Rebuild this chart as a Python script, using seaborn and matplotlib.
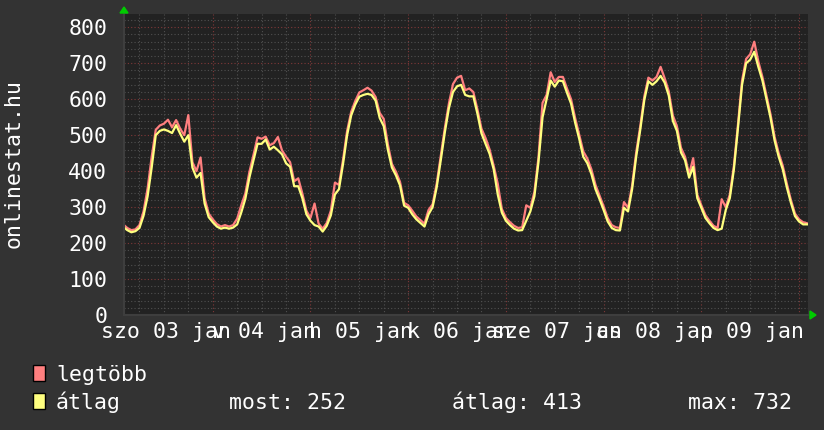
import pandas as pd
import matplotlib
matplotlib.use("Agg")
import matplotlib.pyplot as plt
import seaborn as sns
from matplotlib.ticker import MultipleLocator
from matplotlib.patches import Rectangle, Polygon

# hours since 2009-01-03 00:00, hourly samples
hours = list(range(2, 171))

# "legtöbb" (max) series
legtobb = [
    252, 242, 236, 238, 250, 288, 352, 440, 515, 527, 532, 543, 522, 542, 518, 500, 556, 425, 400, 438, 325, 282,
    266, 253, 246, 250, 246, 250, 268, 305, 338, 398, 445, 494, 490, 496, 472, 478, 495, 458, 440, 425, 372, 380, 338, 290,
    270, 310, 254, 240, 256, 290, 368, 362, 432, 512, 565, 595, 619, 625, 632, 624, 606, 562, 545, 475, 420, 398, 370, 312,
    305, 290, 274, 264, 254, 292, 308, 365, 442, 520, 588, 642, 660, 665, 625, 630, 620, 572, 518, 492, 460, 415, 365, 295,
    270, 258, 248, 242, 244, 305, 298, 342, 438, 590, 612, 675, 648, 662, 662, 630, 600, 548, 502, 455, 435, 405, 362, 332,
    302, 270, 250, 244, 242, 314, 298, 360, 452, 525, 608, 660, 652, 662, 690, 658, 622, 555, 525, 465, 440, 392, 436, 335,
    305, 278, 262, 248, 242, 322, 300, 335, 415, 530, 652, 712, 725, 760, 705, 662, 610, 558, 495, 450, 415, 365, 320, 282,
    266, 258, 255,
]

# "átlag" (average) series
atlag = [
    245, 236, 230, 233, 242, 276, 330, 410, 500, 512, 516, 512, 506, 528, 504, 482, 500, 410, 382, 395, 310, 272,
    258, 246, 240, 243, 240, 243, 252, 285, 323, 382, 430, 476, 476, 488, 460, 468, 458, 447, 422, 412, 358, 358, 325, 280,
    262, 250, 246, 232, 248, 277, 335, 350, 420, 500, 555, 585, 607, 612, 615, 612, 596, 548, 525, 460, 410, 388, 360, 304,
    298, 280, 266, 256, 246, 280, 300, 355, 430, 508, 575, 620, 636, 640, 612, 608, 608, 560, 505, 476, 448, 405, 335, 285,
    262, 250, 240, 235, 236, 262, 288, 330, 425, 550, 600, 652, 635, 652, 650, 618, 588, 535, 490, 440, 422, 392, 350, 322,
    292, 260, 242, 236, 235, 298, 288, 350, 440, 515, 598, 650, 640, 650, 665, 646, 610, 540, 512, 452, 430, 382, 412, 325,
    298, 270, 255, 242, 236, 240, 292, 325, 405, 520, 640, 700, 710, 732, 690, 652, 600, 548, 485, 440, 405, 355, 312, 275,
    260, 252, 252,
]

day_labels = ["szo 03 jan", "v 04 jan", "h 05 jan", "k 06 jan", "sze 07 jan", "cs 08 jan", "p 09 jan"]
label_hours = [12, 36, 60, 84, 108, 132, 156]
midnights = [24, 48, 72, 96, 120, 144, 168]
y_ticks = list(range(0, 801, 100))
stats_text = ["most: 252", "átlag: 413", "max: 732"]

BG = "#333333"
CANVAS = "#222222"
RED = "#FF7F7F"
YELLOW = "#FFFF7F"
FONT = "DejaVu Sans Mono"
FS = 15.5

plt.rcParams["font.family"] = [FONT, "DejaVu Sans"]

W, H = 824, 430


def fx(x):
    return x / W


def fy(y):
    return 1 - y / H


fig = plt.figure(figsize=(W / 100, H / 100), dpi=100, facecolor=BG)
ax = fig.add_axes([fx(124), fy(315), 684 / W, 301 / H])
ax.set_facecolor(CANVAS)

df = pd.DataFrame({
    "hour": hours * 2,
    "value": legtobb + atlag,
    "series": ["legtöbb"] * len(hours) + ["átlag"] * len(hours),
})
sns.lineplot(data=df, x="hour", y="value", hue="series",
             hue_order=["legtöbb", "átlag"],
             palette={"legtöbb": RED, "átlag": YELLOW},
             estimator=None, legend=False, linewidth=1.6, ax=ax)

ax.set_xlim(2.2, 170.2)
ax.set_ylim(0, 837)

# grid: minor grey dots, major reddish dots
ax.set_yticks(y_ticks)
ax.yaxis.set_minor_locator(MultipleLocator(20))
ax.set_xticks(midnights)
ax.xaxis.set_minor_locator(MultipleLocator(6))
ax.grid(which="minor", color="#505050", linestyle=(0, (1, 2)), linewidth=0.8)
ax.grid(which="major", color="#803838", linestyle=(0, (1, 2)), linewidth=0.8)
ax.set_axisbelow(True)

ax.tick_params(which="both", length=0)
ax.tick_params(axis="y", labelsize=FS, labelcolor="white", pad=12)
ax.set_xticklabels([])
ax.set_xlabel("")
ax.set_ylabel("")
for s in ["top", "right"]:
    ax.spines[s].set_visible(False)
for s in ["left", "bottom"]:
    ax.spines[s].set_color("#3e3e3e")
    ax.spines[s].set_linewidth(1.5)

# day labels centred at noon (they overlap, as in the original)
for h, lab in zip(label_hours, day_labels):
    ax.text(h + 0.5, -22.5 / 301, lab, transform=ax.get_xaxis_transform(),
            ha="center", va="baseline", fontsize=FS, color="white")

# green arrows on the axes
fig.patches.append(Polygon([[fx(120), fy(13)], [fx(128), fy(13)], [fx(124), fy(7)]],
                           closed=True, transform=fig.transFigure, color="#00CC00"))
fig.patches.append(Polygon([[fx(810), fy(311)], [fx(810), fy(319)], [fx(816), fy(315)]],
                           closed=True, transform=fig.transFigure, color="#00CC00"))

fig.text(fx(14), fy(164), "onlinestat.hu", rotation=90, ha="center", va="center",
         fontsize=FS, color="white")

# legend
for y0, col, lab in [(365, RED, "legtöbb"), (393, YELLOW, "átlag")]:
    fig.patches.append(Rectangle((fx(33), fy(y0 + 16)), 12 / W, 16 / H,
                                 transform=fig.transFigure, facecolor=col,
                                 edgecolor="black", linewidth=1))
    fig.text(fx(56), fy(y0 + 16), lab, ha="left", va="baseline",
             fontsize=FS, color="white")

for x0, txt in zip([229, 452, 688], stats_text):
    fig.text(fx(x0), fy(409), txt, ha="left", va="baseline", fontsize=FS, color="white")

fig.savefig("out.png", dpi=100, facecolor=BG)
